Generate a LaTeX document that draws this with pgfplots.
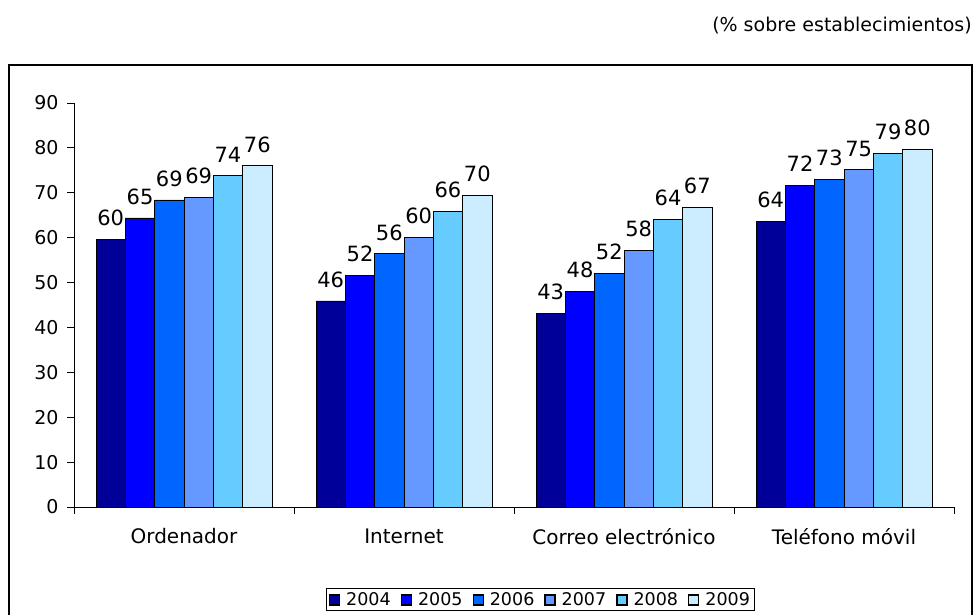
\documentclass[border=0pt]{standalone}
\usepackage{fontspec}
\setmainfont{DejaVu Sans}
\usepackage{pgfplots}
\pgfplotsset{compat=1.18}

\definecolor{c2004}{HTML}{000099}
\definecolor{c2005}{HTML}{0000FF}
\definecolor{c2006}{HTML}{0066FF}
\definecolor{c2007}{HTML}{6699FF}
\definecolor{c2008}{HTML}{66CCFF}
\definecolor{c2009}{HTML}{CCECFF}

\begin{document}
\begin{tikzpicture}[x=1pt,y=1pt]
\useasboundingbox (0,0) rectangle (976,615);
\draw[line width=1.4pt] (9,-10) rectangle (972,550);
\node[anchor=base east, inner sep=0pt, font=\fontsize{19}{22}\selectfont] at (972,583) {(\% sobre establecimientos)};
\begin{axis}[
  at={(74pt,108pt)}, anchor=south west,
  scale only axis, width=880pt, height=404pt,
  ybar=0pt, bar width=29.33pt,
  xmin=-0.5, xmax=3.5, ymin=0, ymax=90,
  axis lines*=left,
  axis line style={black, line width=0.8pt},
  ytick={0,10,...,90},
  xtick={0,1,2,3},
  xticklabels={Ordenador,Internet,Correo electrónico,Teléfono móvil},
  minor xtick={-0.5,0.5,1.5,2.5,3.5},
  tick align=outside,
  major tick length=7pt, minor tick length=7pt,
  x tick style={draw=none},
  minor x tick style={draw=black, line width=0.8pt},
  y tick style={black, line width=0.8pt},
  yticklabel style={font=\fontsize{19}{22}\selectfont, xshift=-5pt},
  xticklabel style={font=\fontsize{20}{24}\selectfont, yshift=-11pt},
  /pgf/number format/assume math mode=true,
  every axis plot/.append style={draw=black, line width=0.8pt},
  point meta=explicit symbolic,
  nodes near coords,
  nodes near coords style={font=\fontsize{21}{24}\selectfont, anchor=south, inner sep=0pt, yshift=13pt},
  legend columns=6,
  legend style={at={(0.530,-0.229)}, anchor=center, draw=black, line width=0.8pt,
    font=\fontsize{17.5}{21}\selectfont, inner xsep=2pt, inner ysep=2pt,
    /tikz/every even column/.append style={column sep=8pt},
    /tikz/every odd column/.append style={column sep=0pt}},
  legend image code/.code={\draw[#1, draw=black, line width=1.3pt] (0pt,-5.5pt) rectangle (10pt,4.5pt);},
]
\addplot[fill=c2004] coordinates {(0,59.6)[60] (1,45.9)[46] (2,43.2)[43] (3,63.7)[64]};
\addplot[fill=c2005] coordinates {(0,64.4)[65] (1,51.6)[52] (2,48.1)[48] (3,71.7)[72]};
\addplot[fill=c2006] coordinates {(0,68.4)[69] (1,56.4)[56] (2,52.1)[52] (3,73.0)[73]};
\addplot[fill=c2007] coordinates {(0,69.0)[69] (1,60.1)[60] (2,57.2)[58] (3,75.1)[75]};
\addplot[fill=c2008] coordinates {(0,73.8)[74] (1,65.9)[66] (2,64.1)[64] (3,78.8)[79]};
\addplot[fill=c2009] coordinates {(0,76.0)[76] (1,69.5)[70] (2,66.8)[67] (3,79.7)[80]};
\legend{\hspace{4pt}2004,\hspace{4pt}2005,\hspace{4pt}2006,\hspace{4pt}2007,\hspace{4pt}2008,\hspace{4pt}2009}
\end{axis}
\end{tikzpicture}
\end{document}
